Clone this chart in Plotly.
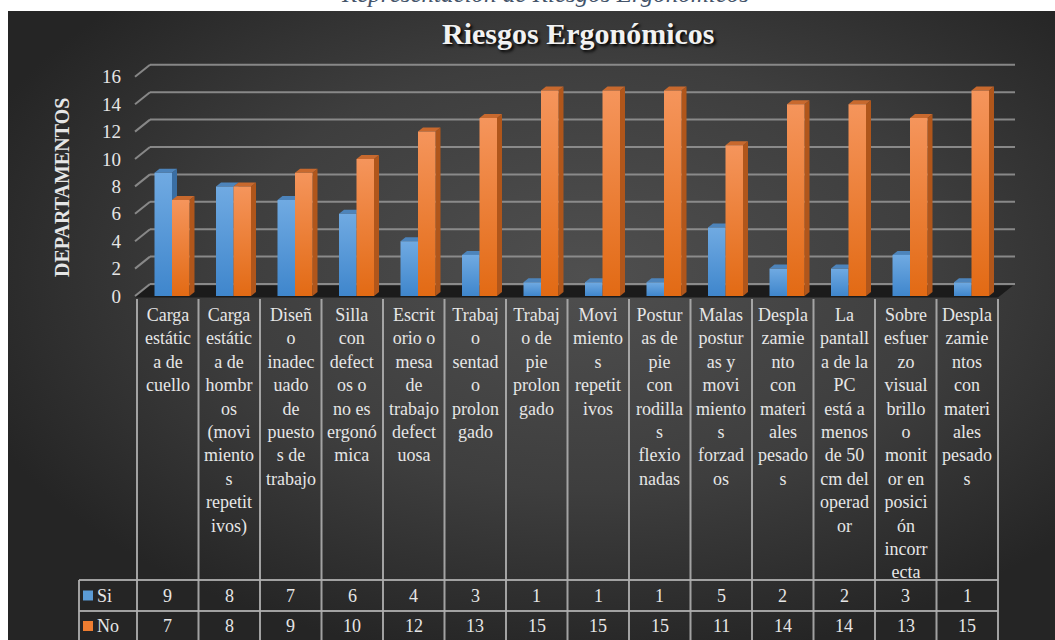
import base64
import plotly.graph_objects as go

# ---------------- data ----------------
categories = [
    "Carga<br>estátic<br>a de<br>cuello",
    "Carga<br>estátic<br>a de<br>hombr<br>os<br>(movi<br>miento<br>s<br>repetit<br>ivos)",
    "Diseñ<br>o<br>inadec<br>uado<br>de<br>puesto<br>s de<br>trabajo",
    "Silla<br>con<br>defect<br>os o<br>no es<br>ergonó<br>mica",
    "Escrit<br>orio o<br>mesa<br>de<br>trabajo<br>defect<br>uosa",
    "Trabaj<br>o<br>sentad<br>o<br>prolon<br>gado",
    "Trabaj<br>o de<br>pie<br>prolon<br>gado",
    "Movi<br>miento<br>s<br>repetit<br>ivos",
    "Postur<br>as de<br>pie<br>con<br>rodilla<br>s<br>flexio<br>nadas",
    "Malas<br>postur<br>as y<br>movi<br>miento<br>s<br>forzad<br>os",
    "Despla<br>zamie<br>nto<br>con<br>materi<br>ales<br>pesado<br>s",
    "La<br>pantall<br>a de la<br>PC<br>está a<br>menos<br>de 50<br>cm del<br>operad<br>or",
    "Sobre<br>esfuer<br>zo<br>visual<br>brillo<br>o<br>monit<br>or en<br>posici<br>ón<br>incorr<br>ecta",
    "Despla<br>zamie<br>ntos<br>con<br>materi<br>ales<br>pesado<br>s",
]
si_values = [9, 8, 7, 6, 4, 3, 1, 1, 1, 5, 2, 2, 3, 1]
no_values = [7, 8, 9, 10, 12, 13, 15, 15, 15, 11, 14, 14, 13, 15]
series_names = ["Si", "No"]
y_ticks = [0, 2, 4, 6, 8, 10, 12, 14, 16]
title_text = "Riesgos Ergonómicos"
y_title = "DEPARTAMENTOS"
caption_text = "Representación de Riesgos Ergonómicos"

# ---------------- geometry helpers (pixel -> data) ----------------
W, H = 1055, 640
COL_LEFT, COL_W = 137.0, 61.5
ZERO_PY, UNIT_PY = 296.0, 13.7


def X(px):
    return (px - COL_LEFT) / COL_W - 0.5


def Y(py):
    return (ZERO_PY - py) / UNIT_PY


DXB = 15 / COL_W      # back-wall depth (x)
DYB = 12 / UNIT_PY    # back-wall depth (y)
DX = 5 / COL_W        # bar depth (x)
DY = 4 / UNIT_PY      # bar depth (y)
BW = 17.5 / COL_W     # bar width
GAP = 17.5 / COL_W    # gap from column left to first bar

FONT = "Liberation Serif"
TXT = "#e6e6e6"
GRID = "rgba(150,150,150,0.85)"
TABLE = "rgba(175,175,175,0.9)"

colors = {
    "Si": dict(top="#70aae2", bottom="#3f86cc", side="#3a6ea3", cap="#4d84bb", legend="#5b9bd5"),
    "No": dict(top="#f5955c", bottom="#e26a14", side="#b0561b", cap="#c8692e", legend="#ed7d31"),
}

fig = go.Figure()

# ---------------- background (radial gradient) ----------------
svg = (
    "<svg xmlns='http://www.w3.org/2000/svg' width='1047' height='629' "
    "viewBox='0 0 1047 629' preserveAspectRatio='none'>"
    "<defs><radialGradient id='g' cx='0.55' cy='0.42' r='0.62'>"
    "<stop offset='0' stop-color='#4f4f4f'/><stop offset='0.55' stop-color='#3e3e3e'/>"
    "<stop offset='1' stop-color='#252525'/></radialGradient></defs>"
    "<rect x='0' y='0' width='1047' height='629' fill='url(#g)'/></svg>"
)
bg_uri = "data:image/svg+xml;base64," + base64.b64encode(svg.encode()).decode()

shapes = []

# floor
floor_path = "M {} {} L {} {} L {} {} L {} {} Z".format(
    X(135), Y(297.5), X(135) + DXB, Y(297.5) + DYB,
    X(998) + DXB, Y(297.5) + DYB, X(998), Y(297.5))
shapes.append(dict(type="path", path=floor_path, xref="x", yref="y",
                   fillcolor="#1b1b1b", line=dict(width=0), layer="below"))

# gridlines (back wall + side diagonals)
x_front = X(135)
x_back = x_front + DXB
x_end = X(1015)
for v in y_ticks:
    shapes.append(dict(type="line", xref="x", yref="y", x0=x_front, y0=v, x1=x_back, y1=v + DYB,
                       line=dict(color=GRID, width=2), layer="below"))
    shapes.append(dict(type="line", xref="x", yref="y", x0=x_back, y0=v + DYB, x1=x_end, y1=v + DYB,
                       line=dict(color=GRID, width=2), layer="below"))

# ---------------- 3D bars ----------------
n = len(categories)


def bar_left(i, k):
    return i - 0.5 + GAP + k * BW


for k, (name, vals) in enumerate(zip(series_names, [si_values, no_values])):
    c = colors[name]
    sx, sy = [], []
    tx, ty = [], []
    for i, v in enumerate(vals):
        xl = bar_left(i, k)
        xr = xl + BW
        sx += [xr, xr + DX, xr + DX, xr, xr, None]
        sy += [0, DY, v + DY, v, 0, None]
        tx += [xl, xl + DX, xr + DX, xr, xl, None]
        ty += [v, v + DY, v + DY, v, v, None]
    fig.add_trace(go.Scatter(x=sx, y=sy, mode="lines", fill="toself", fillcolor=c["side"],
                             line=dict(width=0), hoverinfo="skip", showlegend=False))
    fig.add_trace(go.Scatter(x=tx, y=ty, mode="lines", fill="toself", fillcolor=c["cap"],
                             line=dict(width=0), hoverinfo="skip", showlegend=False))
    for i, v in enumerate(vals):
        xl = bar_left(i, k)
        xr = xl + BW
        fig.add_trace(go.Scatter(
            x=[xl, xr, xr, xl, xl], y=[0, 0, v, v, 0], mode="lines", fill="toself",
            fillcolor=c["legend"],
            fillgradient=dict(type="vertical", colorscale=[[0, c["bottom"]], [1, c["top"]]],
                              start=0, stop=v),
            line=dict(width=0), name=name, showlegend=False,
            hovertemplate=name + ": %{customdata}<extra></extra>", customdata=[v] * 5))

# ---------------- data table ----------------
row_top = Y(580)
row_mid = Y(611)
bottom = Y(H + 2)
tab_left = X(79)
for j in range(n + 1):
    xx = j - 0.5
    shapes.append(dict(type="line", xref="x", yref="y", x0=xx, y0=Y(299), x1=xx, y1=bottom,
                       line=dict(color=TABLE, width=2)))
shapes.append(dict(type="line", xref="x", yref="y", x0=tab_left, y0=row_top, x1=tab_left, y1=bottom,
                   line=dict(color=TABLE, width=2)))
for yy in [row_top, row_mid]:
    shapes.append(dict(type="line", xref="x", yref="y", x0=tab_left, y0=yy, x1=n - 0.5, y1=yy,
                       line=dict(color=TABLE, width=2)))

annotations = []

# category labels
for i, cat in enumerate(categories):
    annotations.append(dict(x=i, y=Y(303), xref="x", yref="y", text=cat, showarrow=False,
                            yanchor="top", xanchor="center", align="center",
                            font=dict(family=FONT, size=18, color=TXT)))

# table values + legend keys
row_centers = [Y(595.5), Y(626)]
for k, (name, vals) in enumerate(zip(series_names, [si_values, no_values])):
    yc = row_centers[k]
    for i, v in enumerate(vals):
        annotations.append(dict(x=i, y=yc, xref="x", yref="y", text=str(v), showarrow=False,
                                font=dict(family=FONT, size=18, color=TXT)))
    shapes.append(dict(type="rect", xref="x", yref="y", x0=X(83), x1=X(93),
                       y0=yc - 5 / UNIT_PY, y1=yc + 5 / UNIT_PY,
                       fillcolor=colors[name]["legend"], line=dict(width=0)))
    annotations.append(dict(x=X(95), y=yc, xref="x", yref="y", text=name, showarrow=False,
                            xanchor="left", font=dict(family=FONT, size=18, color=TXT)))

# title, axis title, caption
annotations.append(dict(x=X(578), y=Y(33), xref="x", yref="y", text="<b>" + title_text + "</b>",
                        showarrow=False, font=dict(family=FONT, size=30, color="#f2f2f2",
                                                   shadow="2px 2px 3px #000000")))
annotations.append(dict(x=X(62), y=Y(188), xref="x", yref="y", text="<b>" + y_title + "</b>",
                        showarrow=False, textangle=-90,
                        font=dict(family=FONT, size=20, color=TXT)))
annotations.append(dict(x=545 / W, y=1, xref="paper", yref="paper", text="<i>" + caption_text + "</i>",
                        showarrow=False, yanchor="bottom", yshift=-9,
                        font=dict(family=FONT, size=25, color="#44546a")))

fig.update_layout(
    width=W, height=H,
    margin=dict(l=0, r=0, t=0, b=0),
    paper_bgcolor="white",
    plot_bgcolor="rgba(0,0,0,0)",
    showlegend=False,
    shapes=shapes,
    annotations=annotations,
    images=[dict(source=bg_uri, xref="paper", yref="paper", x=8 / W, y=1 - 11 / H,
                 sizex=(W - 8) / W, sizey=(H - 11) / H, xanchor="left", yanchor="top",
                 sizing="stretch", layer="below")],
    xaxis=dict(range=[X(0), X(W)], visible=True, showticklabels=False, showgrid=False,
               zeroline=False, showline=False, fixedrange=True),
    yaxis=dict(range=[Y(H), Y(0)], tickvals=y_ticks, ticktext=[str(t) for t in y_ticks],
               showgrid=False, zeroline=False, showline=False, ticks="",
               anchor="free", position=121 / W, ticklabelstandoff=0,
               tickfont=dict(family=FONT, size=19, color=TXT), fixedrange=True),
)

fig.write_html(
    "out.html",
    config=dict(displayModeBar=False),
    post_script="document.body.style.margin='0';document.body.style.padding='0';"
                "document.body.style.overflow='hidden';",
)
